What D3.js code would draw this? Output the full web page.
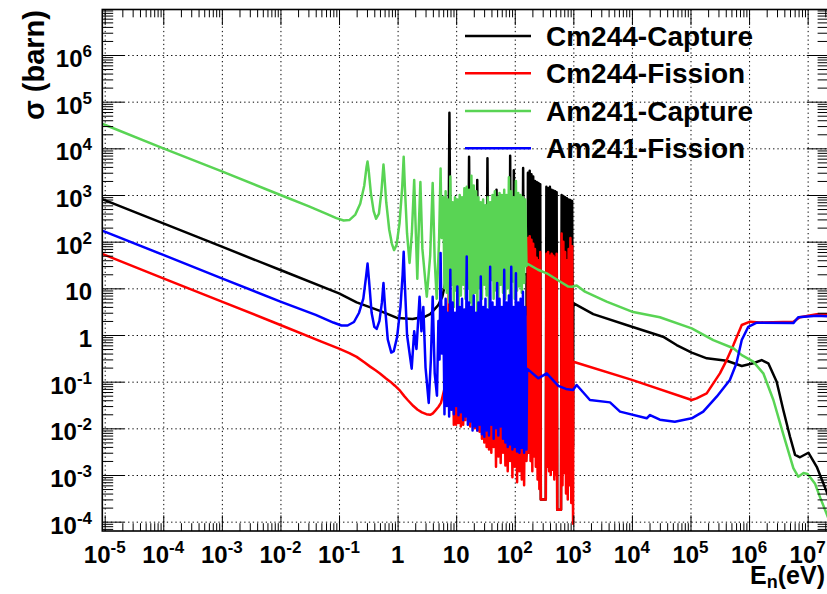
<!DOCTYPE html>
<html><head><meta charset="utf-8">
<script src="https://cdn.jsdelivr.net/npm/d3@7"></script>
<style>
body{margin:0;background:#fff}
svg text{font-family:"Liberation Sans",Arial,Helvetica,sans-serif;font-weight:bold;fill:#000}
</style>
</head><body><svg id="c" width="827" height="594"></svg>
<script>
// ---------------- data ----------------
const seriesNames = ["Cm244-Capture","Cm244-Fission","Am241-Capture","Am241-Fission"];
const seriesColors = ["#000000","#ff0000","#59d454","#0000ff"];
const xTickExponents = [-5,-4,-3,-2,-1,0,1,2,3,4,5,6,7];
const yTickExponents = [-4,-3,-2,-1,0,1,2,3,4,5,6];

// [energy (eV), cross section (barn)]
const cm244Capture = [
[9.1e-6,818],[1e-5,780],[1e-4,247],[1e-3,78],[1e-2,24.7],[0.1,7.8],[0.2,5.0],[0.5,3.3],[1.0,2.3],[1.8,2.2],[3.0,2.5],[3.6,2.8],[4.9,4.3],[5.8,6.6],[6.6,14],[7.2,60],[7.5,800],[7.67,58000],[7.85,900],[8.3,40],[9.5,20],
[15.9,20],[16.3,300],[16.6,6600],[16.9,300],[17.4,20],
[22.2,20],[22.5,200],[22.9,2100],[23.3,200],[23.7,20],
[33.2,20],[33.7,300],[34.2,6100],[34.7,300],[35.3,20],
[47.2,20],[48,150],[48.8,1300],[49.6,150],[50.5,20],
[81.5,20],[82.7,300],[83.5,6900],[84.4,300],[85.5,20],
[95,20],[95.8,200],[96.5,3400],[97.3,200],[98.2,20],
[136,20],[137.5,300],[139,3800],[140.5,300],[142,20],[158.5,20],
[162.2,0.004],[167.9,3000],[173.8,0.004],[179.9,3300],[186.2,0.004],[192.8,2800],[199.5,0.004],[206.5,2500],[213.8,0.004],[221.3,2000],[229.1,0.004],[237.1,1900],[245.5,0.004],[254.1,1800],[263.0,0.004],[272.3,1700],[278.6,0.0003],
[338.8,0.0003],[346.7,1500],[358.9,0.004],[371.5,1400],[384.6,0.004],[398.1,1500],[412.1,0.004],[426.6,1300],[441.6,0.004],[457.1,1250],[473.2,0.004],[489.8,1200],[507.0,0.004],[518.8,1150],[530.9,0.00018],
[616.6,0.00018],[631.0,1000],[653.1,0.004],[676.1,950],[699.8,0.004],[724.4,900],[749.9,0.004],[776.2,850],[803.5,0.004],[831.8,800],[861.0,0.004],[891.3,780],[922.6,0.004],[955.0,740],[988.6,0.004],
[1000,4.8],[2190,2.8],[1e4,1.5],[3.4e4,0.92],[5.8e4,0.61],[1.05e5,0.42],[1.9e5,0.316],[4.15e5,0.28],[7.5e5,0.217],[1.18e6,0.248],[1.64e6,0.29],[2.13e6,0.248],[2.96e6,0.1],[3.84e6,0.0247],[5.0e6,0.0066],[6.1e6,0.0027],[7.4e6,0.0024],[1.03e7,0.003],[1.43e7,0.0015],[2.05e7,4.8e-4],[2.3e7,3.3e-4]
];

const cm244Fission = [
[9.1e-6,54.5],[1e-5,52],[1e-4,16.4],[1e-3,5.2],[1e-2,1.64],[0.05,0.72],[0.1,0.51],[0.15,0.41],[0.2,0.34],[0.27,0.26],[0.34,0.21],[0.42,0.175],[0.5,0.15],[0.62,0.12],[0.75,0.1],[0.9,0.082],[1.1,0.064],[1.3,0.049],[1.5,0.04],[1.86,0.03],[2.2,0.025],[2.6,0.022],[3.1,0.0201],[3.6,0.0195],[4.0,0.021],[4.4,0.024],[5.0,0.029],[5.5,0.035],[6.3,0.07],[7.0,0.3],[7.4,3],[7.67,150],[7.9,3],[8.3,0.05],
[8.710,2.5],[9.120,0.012],[9.550,2],[10.00,0.012],[10.47,2.5],[10.96,0.013],[11.48,1.5],[12.02,0.011],[12.59,2.5],[13.18,0.012],[13.80,2],[14.45,0.015],[15.14,2.5],[15.85,0.02],[16.60,1.5],[17.38,0.011],[18.20,2],[19.05,0.014],[19.95,2.5],[20.89,0.010],[21.88,2],[22.91,0.009],[23.99,2.5],[25.12,0.0085],[26.30,1.5],[27.54,0.006],[28.84,2],[30.20,0.005],[31.62,2.5],[33.11,0.004],[34.67,1.8],[36.31,0.0035],[38.02,2.5],[39.81,0.003],[41.69,2],[43.65,0.004],[45.71,2.5],[47.86,0.0015],[50.12,1.5],[52.48,0.0025],[54.95,2],[57.54,0.0018],[60.26,2.5],[63.10,0.003],[66.07,1.8],[69.18,0.0016],[72.44,2],[75.86,0.0012],[79.43,2.5],[83.18,0.002],[87.10,2],[91.20,0.0009],[95.50,2.5],[100.0,0.0015],[104.7,1.8],[109.6,0.0007],[114.8,2.2],[120.2,0.0012],[125.9,2.5],[131.8,0.0008],[138.0,2],[144.5,0.0006],[151.4,2.5],[158.5,0.002],
[162.2,0.004],[167.9,120],[173.8,0.003],[179.9,130],[186.2,0.002],[192.8,110],[199.5,0.0012],[206.5,90],[213.8,0.0025],[221.3,70],[229.1,0.0015],[237.1,45],[245.5,0.0008],[254.1,40],[263.0,0.0005],[272.3,60],[278.6,0.0003],
[338.8,0.0003],[346.7,55],[358.9,0.0015],[371.5,60],[384.6,0.0012],[398.1,50],[412.1,0.001],[426.6,55],[441.6,0.0013],[457.1,50],[473.2,0.0008],[489.8,45],[507.0,0.001],[518.8,55],[530.9,0.00018],
[616.6,0.00018],[631.0,150],[653.1,0.0006],[676.1,100],[699.8,0.0011],[724.4,60],[749.9,0.0004],[776.2,40],[803.5,0.0003],[831.8,70],[861.0,0.0006],[891.3,120],[922.6,0.00025],[955.0,80],[988.6,0.00009],
[1000,0.268],[1e4,0.109],[1.05e5,0.0405],[1.27e5,0.044],[1.89e5,0.056],[3.18e5,0.151],[4.15e5,0.29],[5.4e5,0.61],[7.5e5,1.64],[1.04e6,1.93],[1.54e6,1.86],[5.7e6,1.93],[7.4e6,2.4],[1.43e7,2.78],[2.3e7,2.8]
];

const am241Capture = [
[9.1e-6,33500],[1e-5,32000],[1e-4,10000],[1e-3,3200],[1e-2,1000],[0.03,580],[0.06,400],[0.09,320],[0.12,285],[0.15,290],[0.19,380],[0.23,650],[0.27,1600],[0.295,4000],[0.307,5200],[0.32,3500],[0.35,1100],[0.39,450],[0.43,310],[0.48,400],[0.53,1200],[0.56,3000],[0.574,4500],[0.59,3000],[0.64,700],[0.72,180],[0.8,90],[0.87,66],[0.96,85],[1.08,250],[1.2,1500],[1.27,6600],[1.33,1500],[1.45,150],[1.6,35],[1.75,150],[1.92,2100],[2.05,150],[2.17,16],[2.3,200],[2.45,1900],[2.65,70],[3.15,6.6],[3.6,50],[3.97,1800],[4.3,40],[4.65,6],[5.1,100],[5.42,3700],[5.65,120],
[6.026,900],[6.310,10],[6.607,1200],[6.918,8],[7.244,800],[7.586,5],[7.943,2500],[8.318,12],[8.710,700],[9.120,4],[9.550,900],[10.00,9],[10.47,800],[10.96,3],[11.48,1000],[12.02,7],[12.59,900],[13.18,12],[13.80,1400],[14.45,6],[15.14,1500],[15.85,10],[16.60,1300],[17.38,5],[18.20,2600],[19.05,2.2],[19.95,1600],[20.89,8],[21.88,1200],[22.91,2.5],[23.99,900],[25.12,10],[26.30,700],[27.54,6],[28.84,800],[30.20,12],[31.62,600],[33.11,7],[34.67,900],[36.31,4],[38.02,700],[39.81,15],[41.69,1000],[43.65,6],[45.71,1200],[47.86,9],[50.12,900],[52.48,5],[54.95,1100],[57.54,12],[60.26,1000],[63.10,8],[66.07,1300],[69.18,6],[72.44,1000],[75.86,10],[79.43,2400],[83.18,7],[87.10,1200],[91.20,14],[95.50,900],[100.0,6],[104.7,2000],[109.6,9],[114.8,1100],[120.2,11],[125.9,1000],[131.8,8],[138.0,900],[144.5,13],[151.4,800],[158.5,30],
[162,34],[250,25],[351,21],[592,14],[820,10.9],[950,10.8],[1140,11.5],[1580,8.5],[3700,5.2],[1e4,3.16],[3.0e4,2.4],[1.05e5,1.39],[2.45e5,0.78],[5.4e5,0.52],[7.5e5,0.37],[1.18e6,0.268],[1.75e6,0.151],[2.6e6,0.0405],[3.8e6,0.0078],[5.7e6,0.0014],[6.9e6,9.2e-4],[8.5e6,1.1e-3],[1.0e7,1.05e-3],[1.33e7,6.6e-4],[1.65e7,3.2e-4],[2.1e7,1.5e-4],[2.3e7,1.1e-4]
];

const am241Fission = [
[9.1e-6,172],[1e-5,164],[1e-4,52],[1e-3,16.4],[1e-2,5.2],[0.04,2.7],[0.08,1.85],[0.11,1.6],[0.14,1.6],[0.18,1.9],[0.22,3.0],[0.26,6],[0.29,18],[0.307,34],[0.325,15],[0.36,3],[0.40,1.5],[0.44,1.35],[0.49,2],[0.54,5],[0.574,13],[0.61,4],[0.68,0.8],[0.78,0.42],[0.86,0.45],[0.98,0.9],[1.12,4],[1.22,20],[1.27,61],[1.32,15],[1.45,1],[1.74,0.19],[1.92,1.2],[2.1,0.5],[2.37,6.6],[2.55,1.2],[2.75,4],[3.0,0.2],[3.4,0.035],[3.7,0.3],[3.97,6.6],[4.3,0.15],[4.7,0.05],[4.97,2],[5.2,0.3],[5.42,57],[5.7,0.4],
[6.026,4],[6.310,0.02],[6.607,6],[6.918,0.03],[7.244,3],[7.586,0.018],[7.943,25],[8.318,0.025],[8.710,5],[9.120,0.02],[9.550,3],[10.00,0.03],[10.47,11],[10.96,0.019],[11.48,4],[12.02,0.022],[12.59,6],[13.18,0.015],[13.80,3.5],[14.45,0.018],[15.14,48],[15.85,0.012],[16.60,5],[17.38,0.014],[18.20,4],[19.05,0.009],[19.95,7],[20.89,0.011],[21.88,3],[22.91,0.009],[23.99,5],[25.12,0.012],[26.30,18],[27.54,0.0075],[28.84,4],[30.20,0.0066],[31.62,6],[33.11,0.009],[34.67,3.5],[36.31,0.007],[38.02,29],[39.81,0.012],[41.69,5],[43.65,0.006],[45.71,4],[47.86,0.01],[50.12,13],[52.48,0.007],[54.95,6],[57.54,0.011],[60.26,4],[63.10,0.006],[66.07,25],[69.18,0.005],[72.44,5],[75.86,0.004],[79.43,7],[83.18,0.0045],[87.10,29],[91.20,0.0035],[95.50,4],[100.0,0.004],[104.7,21],[109.6,0.0032],[114.8,5],[120.2,0.003],[125.9,6],[131.8,0.0038],[138.0,8.5],[144.5,0.003],[151.4,4],[158.5,0.0035],
[162,0.19],[252,0.118],[351,0.15],[554,0.081],[750,0.07],[986,0.066],[1140,0.085],[1920,0.0405],[4230,0.036],[6270,0.0228],[1.79e4,0.0164],[2.04e4,0.0193],[3.0e4,0.0153],[5.4e4,0.0139],[1.05e5,0.0164],[1.65e5,0.0228],[2.8e5,0.0477],[4.7e5,0.109],[6.1e5,0.248],[7.5e5,0.78],[9.7e5,1.5],[1.35e6,1.84],[5.7e6,1.8],[6.9e6,2.4],[1.43e7,2.6],[2.3e7,2.5]
];

const allSeries = [cm244Capture, cm244Fission, am241Capture, am241Fission];

// ---------------- layout ----------------
const frame = {left:102.3, right:828.5, top:9.5, bottom:531};
const x = d3.scaleLog().domain([Math.pow(10,-5.041), Math.pow(10,7.356)]).range([frame.left, frame.right]);
const y = d3.scaleLog().domain([Math.pow(10,-4.2), Math.pow(10,6.975)]).range([frame.bottom, frame.top]);
const svg = d3.select("#c");
const fw = frame.right-frame.left, fh = frame.bottom-frame.top;

function minorTicks(scale){
  const [a,b] = scale.domain(); const out=[];
  for(let e=Math.floor(Math.log10(a)); e<=Math.ceil(Math.log10(b)); e++)
    for(let k=2;k<=9;k++){const v=k*Math.pow(10,e); if(v>=a && v<=b) out.push(v);}
  return out;
}
const xMaj = xTickExponents.map(e=>Math.pow(10,e));
const yMaj = yTickExponents.map(e=>Math.pow(10,e));
const xMin = minorTicks(x), yMin = minorTicks(y);

function clean(g){ g.select(".domain").remove(); g.selectAll("text").remove(); g.selectAll("line").attr("stroke","#000"); }

// grid
svg.append("g").attr("transform",`translate(0,${frame.bottom})`)
  .call(d3.axisBottom(x).tickValues(xMaj).tickSize(-fh).tickFormat(""))
  .call(clean).selectAll("line").attr("stroke-dasharray","1.3,3").attr("stroke-width",1);
svg.append("g").attr("transform",`translate(${frame.left},0)`)
  .call(d3.axisLeft(y).tickValues(yMaj).tickSize(-fw).tickFormat(""))
  .call(clean).selectAll("line").attr("stroke-dasharray","1.3,3").attr("stroke-width",1);

// data
svg.append("clipPath").attr("id","clip").append("rect")
  .attr("x",frame.left).attr("y",frame.top).attr("width",fw).attr("height",fh);
const line = d3.line().x(d=>x(d[0])).y(d=>y(d[1]));
const plot = svg.append("g").attr("clip-path","url(#clip)");
allSeries.forEach((s,i)=>{
  plot.append("path").attr("d",line(s)).attr("fill","none")
    .attr("stroke",seriesColors[i]).attr("stroke-width",2.5).attr("stroke-linejoin","round");
});

// ticks
const xMajLen=15.6, xMinLen=7.8, yMajLen=21.7, yMinLen=10.9;
[[d3.axisBottom, frame.bottom],[d3.axisTop, frame.top]].forEach(([ax,pos])=>{
  svg.append("g").attr("transform",`translate(0,${pos})`).call(ax(x).tickValues(xMaj).tickSizeInner(-xMajLen).tickSizeOuter(0).tickFormat("")).call(clean);
  svg.append("g").attr("transform",`translate(0,${pos})`).call(ax(x).tickValues(xMin).tickSizeInner(-xMinLen).tickSizeOuter(0).tickFormat("")).call(clean);
});
[[d3.axisLeft, frame.left],[d3.axisRight, frame.right]].forEach(([ax,pos])=>{
  svg.append("g").attr("transform",`translate(${pos},0)`).call(ax(y).tickValues(yMaj).tickSizeInner(-yMajLen).tickSizeOuter(0).tickFormat("")).call(clean);
  svg.append("g").attr("transform",`translate(${pos},0)`).call(ax(y).tickValues(yMin).tickSizeInner(-yMinLen).tickSizeOuter(0).tickFormat("")).call(clean);
});

// frame
svg.append("rect").attr("x",frame.left).attr("y",frame.top).attr("width",fw).attr("height",fh)
  .attr("fill","none").attr("stroke","#000").attr("stroke-width",1.6);

// tick labels
function powLabel(t, e){
  if(e===0) t.text("1");
  else if(e===1) t.text("10");
  else { t.append("tspan").text("10"); t.append("tspan").attr("font-size",17).attr("dy",-10).text(String(e)); }
}
xTickExponents.forEach(e=>{
  const t = svg.append("text").attr("x",x(Math.pow(10,e))).attr("y",563).attr("text-anchor","middle").attr("font-size",24);
  powLabel(t,e);
});
yTickExponents.forEach(e=>{
  const t = svg.append("text").attr("x",92).attr("y",y(Math.pow(10,e))+12).attr("text-anchor","end").attr("font-size",24);
  powLabel(t,e);
});

// axis titles
const xt = svg.append("text").attr("x",825).attr("y",584).attr("text-anchor","end").attr("font-size",25);
xt.append("tspan").text("E");
xt.append("tspan").attr("font-size",18).attr("dy",4).text("n");
xt.append("tspan").attr("dy",-4).text("(eV)");
svg.append("text").attr("transform","translate(44,10) rotate(-90)").attr("text-anchor","end").attr("font-size",29).text("σ (barn)");

// legend
const legendY = [36,73.3,111,148.3];
seriesNames.forEach((n,i)=>{
  svg.append("line").attr("x1",465).attr("x2",531).attr("y1",legendY[i]).attr("y2",legendY[i])
    .attr("stroke",seriesColors[i]).attr("stroke-width",2.5);
  svg.append("text").attr("x",546).attr("y",legendY[i]+10).attr("font-size",28).text(n);
});
</script>
</body></html>
